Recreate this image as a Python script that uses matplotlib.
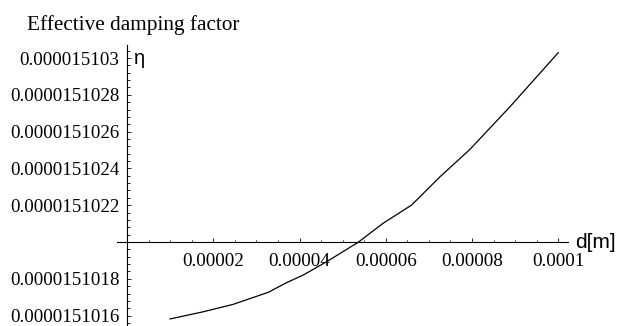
import matplotlib
matplotlib.use("Agg")
import matplotlib.pyplot as plt
from matplotlib.ticker import FixedLocator, FuncFormatter, AutoMinorLocator

# Effective damping factor eta as a function of gap d (metres)
d_vals = [1.0e-5, 1.77e-5, 2.46e-5, 3.28e-5, 3.70e-5, 4.09e-5, 4.63e-5,
          5.37e-5, 5.94e-5, 6.60e-5, 7.26e-5, 7.95e-5, 8.88e-5, 1.0e-4]
eta_vals = [1.51015818e-5, 1.51016209e-5, 1.51016610e-5, 1.51017270e-5,
            1.51017790e-5, 1.51018210e-5, 1.51018930e-5, 1.51020000e-5,
            1.51021020e-5, 1.51022010e-5, 1.51023550e-5, 1.51025030e-5,
            1.51027350e-5, 1.51030290e-5]

x_ticks = [2e-5, 4e-5, 6e-5, 8e-5, 1e-4]
y_ticks = [1.51016e-5, 1.51018e-5, 1.51020e-5, 1.51022e-5,
           1.51024e-5, 1.51026e-5, 1.51028e-5, 1.51030e-5]
y_origin = 1.51020e-5

serif = "Liberation Serif"
sans = "Liberation Sans"

fig = plt.figure(figsize=(6.3, 3.26), dpi=100)
ax = fig.add_axes([117 / 630, 0.0, 451 / 630, 281 / 326])

ax.plot(d_vals, eta_vals, color="black", lw=0.9)

ax.set_xlim(-2.32e-6, 1.0226e-4)
ax.set_ylim(1.51015435e-5, 1.51030707e-5)

# axes cross at (0, y_origin)
for side in ("top", "right"):
    ax.spines[side].set_visible(False)
ax.spines["left"].set_position(("data", 0))
ax.spines["bottom"].set_position(("data", y_origin))
for side in ("left", "bottom"):
    ax.spines[side].set_linewidth(0.8)

ax.xaxis.set_major_locator(FixedLocator(x_ticks))
ax.yaxis.set_major_locator(FixedLocator(y_ticks))
ax.xaxis.set_minor_locator(AutoMinorLocator(4))
ax.yaxis.set_minor_locator(AutoMinorLocator(5))


def fmt_x(v, pos):
    return f"{v:.5f}".rstrip("0")


def fmt_y(v, pos):
    if abs(v - y_origin) < 1e-16:
        return ""
    return f"{v:.10f}".rstrip("0")


ax.xaxis.set_major_formatter(FuncFormatter(fmt_x))
ax.yaxis.set_major_formatter(FuncFormatter(fmt_y))

ax.tick_params(which="both", direction="in", width=0.6, color="black")
ax.tick_params(which="major", length=3.2)
ax.tick_params(which="minor", length=1.8)
ax.tick_params(axis="x", which="major", pad=8, labelsize=13.8)
ax.tick_params(axis="y", which="major", pad=5.5, labelsize=13.6)
for lbl in ax.get_xticklabels() + ax.get_yticklabels():
    lbl.set_fontfamily(serif)

fig.text(27 / 630, 1 - 30 / 326, "Effective damping factor",
         family=serif, fontsize=15.3, va="baseline", ha="left")
fig.text(134 / 630, 1 - 58 / 326, "η", family=sans, fontsize=14.5,
         va="center", ha="left")
fig.text(575 / 630, 1 - 242 / 326, "d[m]", family=sans, fontsize=15,
         va="center", ha="left")

fig.savefig("out.png", dpi=100)
